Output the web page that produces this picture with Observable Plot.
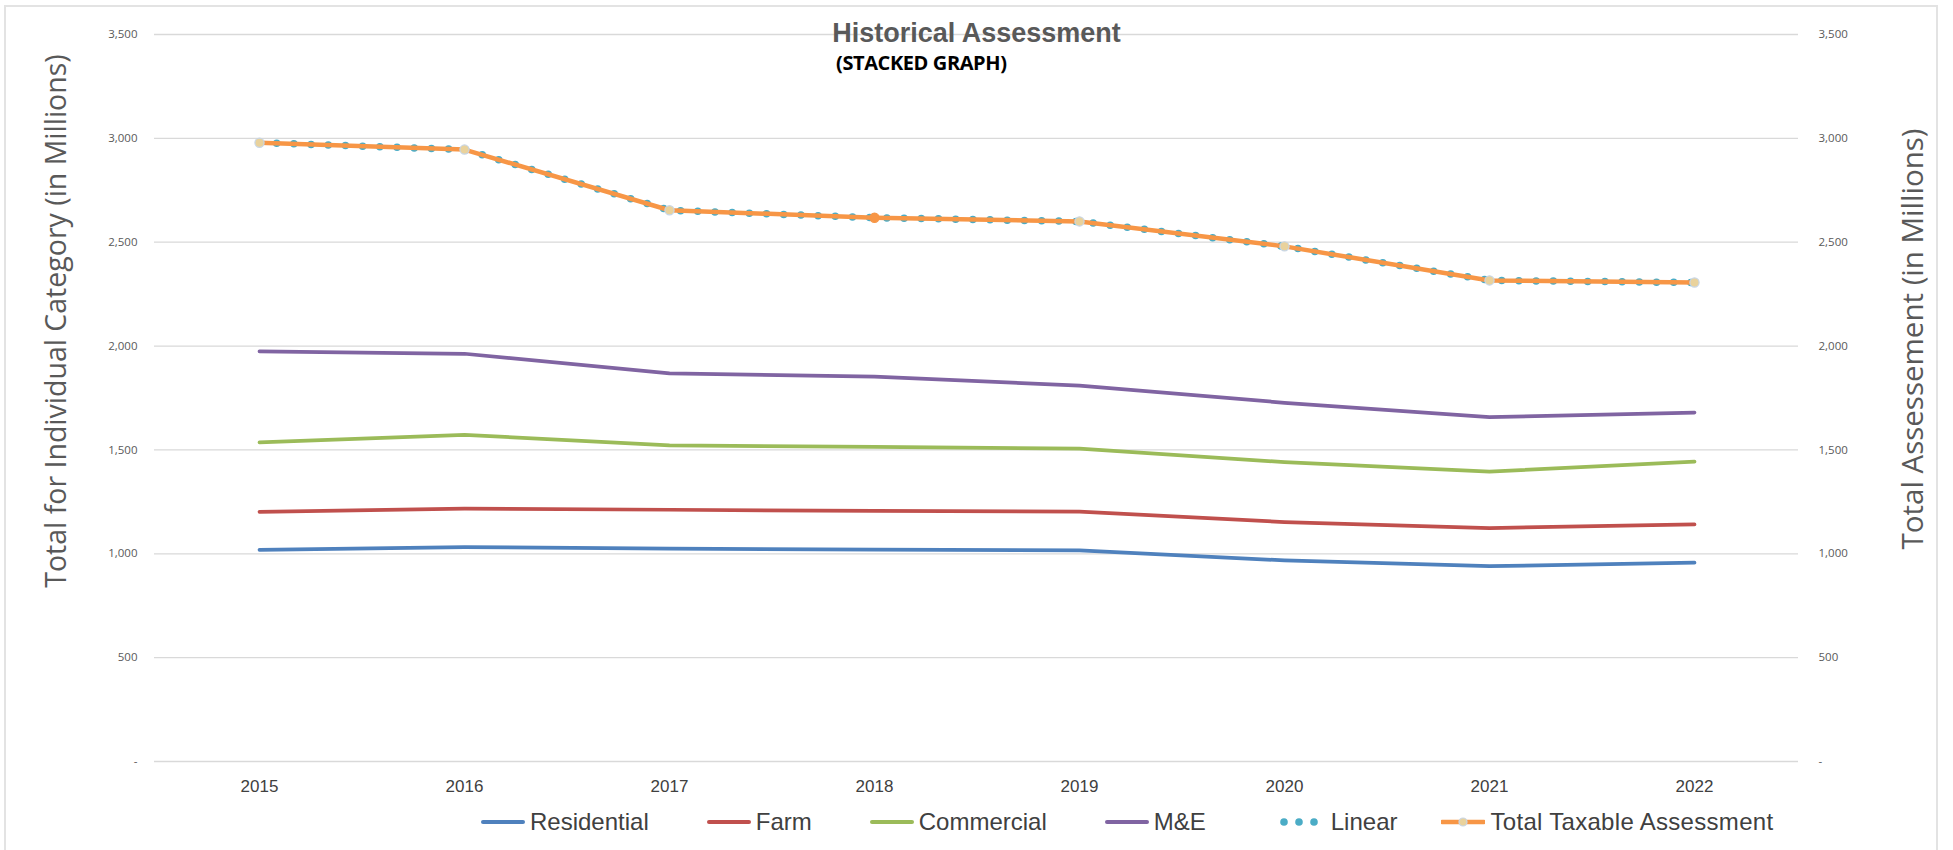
<!DOCTYPE html>
<html>
<head>
<meta charset="utf-8">
<script src="https://cdn.jsdelivr.net/npm/d3@7"></script>
<script src="https://cdn.jsdelivr.net/npm/@observablehq/plot@0.6"></script>
<style>
  html, body { margin: 0; padding: 0; background: #fff; }
  #wrap { position: relative; width: 1953px; height: 850px; overflow: hidden; }
  #frame { position: absolute; left: 4px; top: 5px; width: 1934px; height: 900px; border: 2px solid #e3e3e3; box-sizing: border-box; }
  #chart { position: absolute; left: 0; top: 0; }
  .title { position: absolute; left: 0; width: 1953px; top: 20px; text-align: center; font: bold 27px "Liberation Sans", Arial, sans-serif; line-height: 27px; color: #595959; }
  .subtitle { position: absolute; left: 836px; top: 53px; font: bold 20px "Open Sans", sans-serif; line-height: 20px; color: #000; letter-spacing: -0.4px; }
  .ytitle { position: absolute; transform: translate(-50%, -50%) rotate(-90deg); white-space: nowrap; font-family: "Open Sans", sans-serif; color: #595959; line-height: 1; }
  #legend { position: absolute; left: 481px; top: 810px; display: flex; align-items: center; gap: 58px; font: 24px "Liberation Sans", Arial, sans-serif; line-height: 24px; color: #404040; }
  .item { display: flex; align-items: center; gap: 5px; white-space: nowrap; }
  .item.linear { margin-left: 16px; gap: 13px; }
  .item.total { margin-left: -14px; }
  .item.total span { letter-spacing: 0.3px; }
</style>
</head>
<body>
<div id="wrap">
  <div id="frame"></div>
  <div id="chart"></div>
  <div class="title">Historical Assessment</div>
  <div class="subtitle">(STACKED GRAPH)</div>
  <div class="ytitle" style="left:55px; top:321px; font-size:28.5px;">Total for Individual Category (in Millions)</div>
  <div class="ytitle" style="left:1912px; top:339px; font-size:29.5px;">Total Assessement (in Millions)</div>
  <div id="legend"></div>
</div>
<script>
// ---- data ----
const years = [2015, 2016, 2017, 2018, 2019, 2020, 2021, 2022];
const residential = [1019, 1032, 1025, 1020, 1017, 968, 940, 957];
const farm = [1202, 1217, 1212, 1206, 1203, 1153, 1124, 1141];
const commercial = [1536, 1573, 1522, 1515, 1506, 1441, 1396, 1444];
const me = [1975, 1963, 1868, 1853, 1810, 1727, 1658, 1680];
const linear = [2979, 2946, 2654, 2618, 2600, 2480, 2316, 2306];
const totalTaxable = [2979, 2946, 2654, 2618, 2600, 2480, 2316, 2306];
const yTicks = [0, 500, 1000, 1500, 2000, 2500, 3000, 3500];
const seriesNames = ["Residential", "Farm", "Commercial", "M&E", "Linear", "Total Taxable Assessment"];

// ---- styling ----
const colors = {
  "Residential": "#4f81bd",
  "Farm": "#c0504d",
  "Commercial": "#9bbb59",
  "M&E": "#8064a2",
  "Linear": "#4bacc6",
  "Total Taxable Assessment": "#f79646"
};
const markerFill = "#e9d29c";
const markerStroke = "#c8d6e5";
const highlightYear = 2018;

const rows = (vals) => years.map((yr, i) => ({year: yr, value: vals[i]}));
const catSeries = [
  ["Residential", residential],
  ["Farm", farm],
  ["Commercial", commercial],
  ["M&E", me]
];
const totalRows = rows(totalTaxable);
const fmt = d => d === 0 ? "-" : d3.format(",")(d);

const chart = Plot.plot({
  width: 1953,
  height: 850,
  marginLeft: 154,
  marginRight: 155,
  marginTop: 34,
  marginBottom: 89,
  x: {type: "point", domain: years, padding: 0.5},
  y: {domain: [0, 3500]},
  style: {background: "transparent", overflow: "visible"},
  marks: [
    Plot.ruleY(yTicks, {stroke: "#d9d9d9", strokeWidth: 1.3}),
    Plot.axisY({anchor: "left", ticks: yTicks, tickSize: 0, tickPadding: 17, tickFormat: fmt, label: null,
      fontSize: 11.5, fontFamily: "Open Sans, sans-serif", fill: "#595959"}),
    Plot.axisY({anchor: "right", ticks: yTicks, tickSize: 0, tickPadding: 20, tickFormat: fmt, label: null,
      fontSize: 11.5, fontFamily: "Open Sans, sans-serif", fill: "#595959"}),
    Plot.axisX({ticks: years, tickSize: 0, tickPadding: 18, tickFormat: d => String(d), label: null,
      fontSize: 17, fontFamily: "Liberation Sans, Arial, sans-serif", fill: "#404040"}),
    ...catSeries.map(([name, vals]) => Plot.line(rows(vals), {
      x: "year", y: "value", stroke: colors[name], strokeWidth: 3.75, strokeLinejoin: "round", strokeLinecap: "round"
    })),
    Plot.line(rows(linear), {x: "year", y: "value", stroke: colors["Linear"], strokeWidth: 7.5,
      strokeDasharray: "0 17.2", strokeLinecap: "round"}),
    Plot.line(totalRows, {x: "year", y: "value", stroke: colors["Total Taxable Assessment"], strokeWidth: 4.5,
      strokeLinejoin: "round"}),
    Plot.dot(totalRows, {filter: d => d.year !== highlightYear, x: "year", y: "value", r: 4.6,
      fill: markerFill, stroke: markerStroke, strokeWidth: 1.2}),
    Plot.dot(totalRows, {filter: d => d.year === highlightYear, x: "year", y: "value", r: 4.6,
      fill: colors["Total Taxable Assessment"], stroke: colors["Total Taxable Assessment"], strokeWidth: 1.2})
  ]
});
document.getElementById("chart").appendChild(chart);

// ---- legend ----
const legend = document.getElementById("legend");
for (const name of seriesNames) {
  const item = document.createElement("div");
  item.className = "item" + (name === "Linear" ? " linear" : name === "Total Taxable Assessment" ? " total" : "");
  let sw;
  if (name === "Linear") {
    sw = `<svg width="38" height="10"><g fill="${colors[name]}"><circle cx="4" cy="5" r="3.8"/><circle cx="19" cy="5" r="3.8"/><circle cx="34" cy="5" r="3.8"/></g></svg>`;
  } else if (name === "Total Taxable Assessment") {
    sw = `<svg width="44" height="12"><line x1="1" x2="43" y1="6" y2="6" stroke="${colors[name]}" stroke-width="4.5" stroke-linecap="round"/><circle cx="22" cy="6" r="4" fill="${markerFill}" stroke="${markerStroke}" stroke-width="1.2"/></svg>`;
  } else {
    sw = `<svg width="44" height="8"><line x1="2" x2="42" y1="4" y2="4" stroke="${colors[name]}" stroke-width="4" stroke-linecap="round"/></svg>`;
  }
  item.innerHTML = sw + `<span>${name.replace("&", "&amp;")}</span>`;
  legend.appendChild(item);
}
</script>
</body>
</html>
